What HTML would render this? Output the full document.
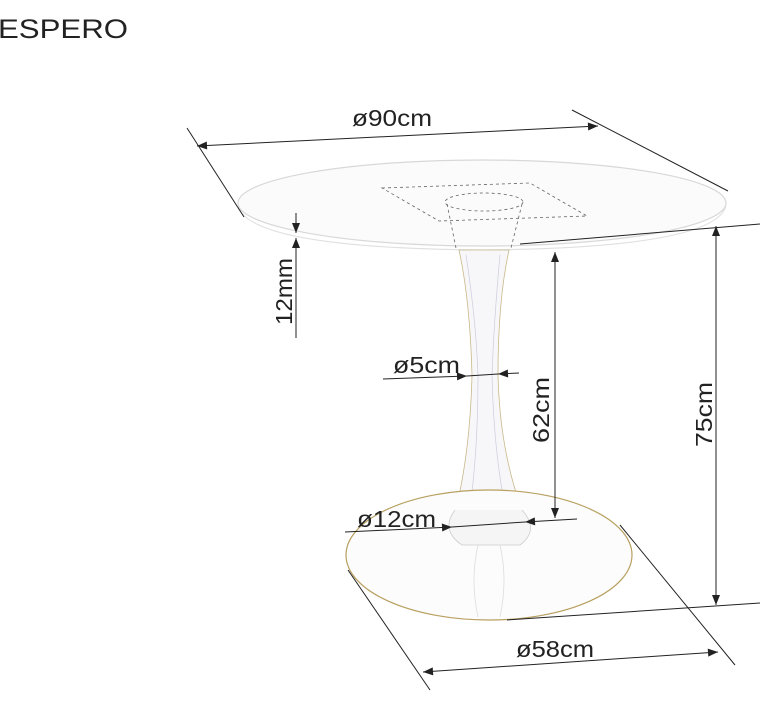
<!DOCTYPE html>
<html><head><meta charset="utf-8"><style>
html,body{margin:0;padding:0;background:#fff;}
svg{display:block;}
text{font-family:"Liberation Sans",sans-serif;fill:#222;}
</style></head><body>
<svg width="770" height="703" viewBox="0 0 770 703" xmlns="http://www.w3.org/2000/svg">
<defs>
<marker id="a" viewBox="0 0 10 10" refX="10" refY="5" markerWidth="14" markerHeight="10" markerUnits="userSpaceOnUse" orient="auto-start-reverse">
<path d="M0,1 L10,5 L0,9 z" fill="#222"/></marker>
</defs>
<text x="-2" y="38" font-size="27" textLength="130" lengthAdjust="spacingAndGlyphs">ESPERO</text>

<!-- table top -->
<ellipse cx="482" cy="203" rx="244" ry="43" fill="#fbfbfb" stroke="#d8d8d8" stroke-width="1.2"/>
<path d="M238,206 Q250,248 482,250 Q714,248 726,206" fill="none" stroke="#e0e0e0" stroke-width="1.2"/>
<g stroke="#666" stroke-width="0.8" stroke-dasharray="3,3" fill="none">
<path d="M382,188 L530,183 L587,216 L439,221 Z"/>
<ellipse cx="484" cy="202" rx="39" ry="9"/>
<path d="M447,204 L456,248 M522,204 L511,248"/>
</g>

<!-- pedestal -->
<path d="M459,250 Q470,300 472,375 Q470,460 452,525 L528,525 Q500,460 498,375 Q498,300 509,250 Z" fill="#f7f7f9" stroke="#c8b88a" stroke-width="0.8"/>
<path d="M466,255 Q476,320 478,375 Q478,460 468,520 M500,255 Q494,320 492,375 Q494,460 508,520" fill="none" stroke="#ccd" stroke-width="0.7"/>

<!-- base -->
<ellipse cx="489" cy="555" rx="143" ry="65" fill="#fcfcfc" stroke="#b8a060" stroke-width="1.2"/>
<path d="M455,510 Q440,530 462,545 L520,545 Q540,530 522,510" fill="#f5f5f5" stroke="#ccc" stroke-width="0.8"/>
<path d="M478,545 Q470,580 478,617 M500,545 Q508,580 500,617" fill="none" stroke="#ddd" stroke-width="0.8"/>

<g stroke="#222" stroke-width="1" fill="none">
<!-- 90cm -->
<line x1="187" y1="128" x2="244" y2="217"/>
<line x1="572" y1="110" x2="728" y2="191"/>
<line x1="197" y1="146" x2="598" y2="126" marker-start="url(#a)" marker-end="url(#a)"/>
<!-- top plane reference lines -->
<line x1="520" y1="244" x2="760" y2="224"/>
<line x1="507" y1="620" x2="760" y2="603"/>
<!-- 12mm -->
<line x1="296" y1="213" x2="296" y2="233" marker-end="url(#a)"/>
<line x1="296" y1="338" x2="296" y2="238" marker-end="url(#a)"/>
<!-- 62cm -->
<line x1="555" y1="252" x2="555" y2="518" marker-start="url(#a)" marker-end="url(#a)"/>
<!-- 75cm -->
<line x1="716" y1="226" x2="716" y2="605" marker-start="url(#a)" marker-end="url(#a)"/>
<!-- 5cm -->
<line x1="383" y1="379" x2="467" y2="376" marker-end="url(#a)"/>
<line x1="519" y1="373" x2="498" y2="374" marker-end="url(#a)"/>
<line x1="467" y1="376" x2="498" y2="374"/>
<!-- 12cm -->
<line x1="345" y1="532" x2="452" y2="527" marker-end="url(#a)"/>
<line x1="577" y1="519" x2="525" y2="522" marker-end="url(#a)"/>
<line x1="452" y1="527" x2="525" y2="522"/>
<!-- 58cm -->
<line x1="348" y1="570" x2="430" y2="690"/>
<line x1="620" y1="525" x2="735" y2="665"/>
<line x1="423" y1="672" x2="718" y2="652" marker-start="url(#a)" marker-end="url(#a)"/>
</g>

<text x="352" y="126" font-size="23" textLength="80" lengthAdjust="spacingAndGlyphs">ø90cm</text>
<text transform="translate(292,325) rotate(-90)" font-size="23" textLength="67" lengthAdjust="spacingAndGlyphs">12mm</text>
<text x="393" y="373" font-size="23" textLength="67" lengthAdjust="spacingAndGlyphs">ø5cm</text>
<text transform="translate(549,443) rotate(-90)" font-size="23" textLength="66" lengthAdjust="spacingAndGlyphs">62cm</text>
<text transform="translate(712,447) rotate(-90)" font-size="23" textLength="65" lengthAdjust="spacingAndGlyphs">75cm</text>
<text x="357" y="527" font-size="23" textLength="79" lengthAdjust="spacingAndGlyphs">ø12cm</text>
<text x="516" y="657" font-size="23" textLength="78" lengthAdjust="spacingAndGlyphs">ø58cm</text>
</svg>
</body></html>
